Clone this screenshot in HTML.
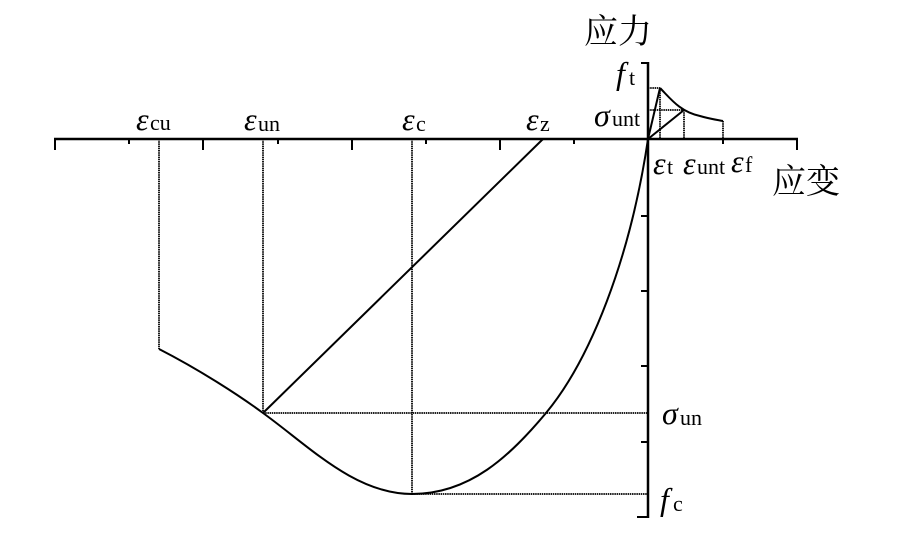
<!DOCTYPE html>
<html><head><meta charset="utf-8"><style>
html,body{margin:0;padding:0;background:#fff;}
svg{display:block;}
text{font-family:"Liberation Serif","Noto Serif CJK SC",serif;fill:#000;}
</style></head><body>
<svg width="913" height="540" viewBox="0 0 913 540" xmlns="http://www.w3.org/2000/svg">
<g stroke="#000" fill="none">
<line x1="54" y1="139" x2="798" y2="139" stroke-width="2.5"/>
<line x1="648" y1="62" x2="648" y2="518" stroke-width="2.5"/>
<g stroke-width="2">
<line x1="55" y1="139" x2="55" y2="150"/>
<line x1="129" y1="139" x2="129" y2="144"/>
<line x1="203" y1="139" x2="203" y2="150"/>
<line x1="278" y1="139" x2="278" y2="144"/>
<line x1="352" y1="139" x2="352" y2="150"/>
<line x1="426" y1="139" x2="426" y2="144"/>
<line x1="500" y1="139" x2="500" y2="150"/>
<line x1="574" y1="139" x2="574" y2="144"/>
<line x1="723" y1="139" x2="723" y2="144"/>
<line x1="797" y1="139" x2="797" y2="150"/>
<line x1="648" y1="63" x2="641" y2="63"/>
<line x1="648" y1="216" x2="641" y2="216"/>
<line x1="648" y1="291" x2="641" y2="291"/>
<line x1="648" y1="366" x2="641" y2="366"/>
<line x1="648" y1="442" x2="641" y2="442"/>
<line x1="648" y1="517" x2="637" y2="517"/>
</g>
<g stroke-width="1.8" stroke-dasharray="1.5,0.7">
<line x1="159" y1="139" x2="159" y2="349"/>
<line x1="263" y1="139" x2="263" y2="413"/>
<line x1="412" y1="139" x2="412" y2="494"/>
<line x1="263" y1="413" x2="648" y2="413"/>
<line x1="412" y1="494" x2="648" y2="494"/>
<line x1="648" y1="88" x2="660" y2="88"/>
<line x1="648" y1="110" x2="684" y2="110"/>
<line x1="660" y1="88" x2="660" y2="139"/>
<line x1="684" y1="110" x2="684" y2="139"/>
<line x1="723" y1="121" x2="723" y2="139"/>
</g>
<g stroke-width="2">
<path d="M159,349 C200,370 240,396 263,413 C310,447 355,494 412,494"/>
<line x1="263" y1="413" x2="543" y2="139"/>
<path d="M648,139 C630,260 590,360 546,413 C510,456 470,494 412,494"/>
<line x1="648" y1="139" x2="660" y2="88"/>
<line x1="648" y1="139" x2="684" y2="110"/>
<path d="M660,88 C670,98 680,112 700,116 C710,119 718,120 723,121"/>
</g>
</g>
<text x="584" y="43" font-size="34">应力</text>
<text x="772" y="193" font-size="34">应变</text>
<text x="616" y="84" font-size="32" font-style="italic">f</text><text x="629" y="85" font-size="22">t</text>
<text x="594" y="126" font-size="32" font-style="italic">σ</text><text x="612" y="126" font-size="22">unt</text>
<text x="653" y="174" font-size="32" font-style="italic">ε</text><text x="667" y="174" font-size="22">t</text>
<text x="683" y="174" font-size="32" font-style="italic">ε</text><text x="697" y="174" font-size="22">unt</text>
<text x="731" y="172" font-size="32" font-style="italic">ε</text><text x="745" y="172" font-size="22">f</text>
<text x="136" y="130" font-size="32" font-style="italic">ε</text><text x="150" y="130" font-size="22">cu</text>
<text x="244" y="130" font-size="32" font-style="italic">ε</text><text x="258" y="131" font-size="22">un</text>
<text x="402" y="130" font-size="32" font-style="italic">ε</text><text x="416" y="131" font-size="22">c</text>
<text x="526" y="130" font-size="32" font-style="italic">ε</text><text x="540" y="131" font-size="22">z</text>
<text x="662" y="424" font-size="32" font-style="italic">σ</text><text x="680" y="425" font-size="22">un</text>
<text x="660" y="510" font-size="32" font-style="italic">f</text><text x="673" y="511" font-size="22">c</text>
</svg>
</body></html>
